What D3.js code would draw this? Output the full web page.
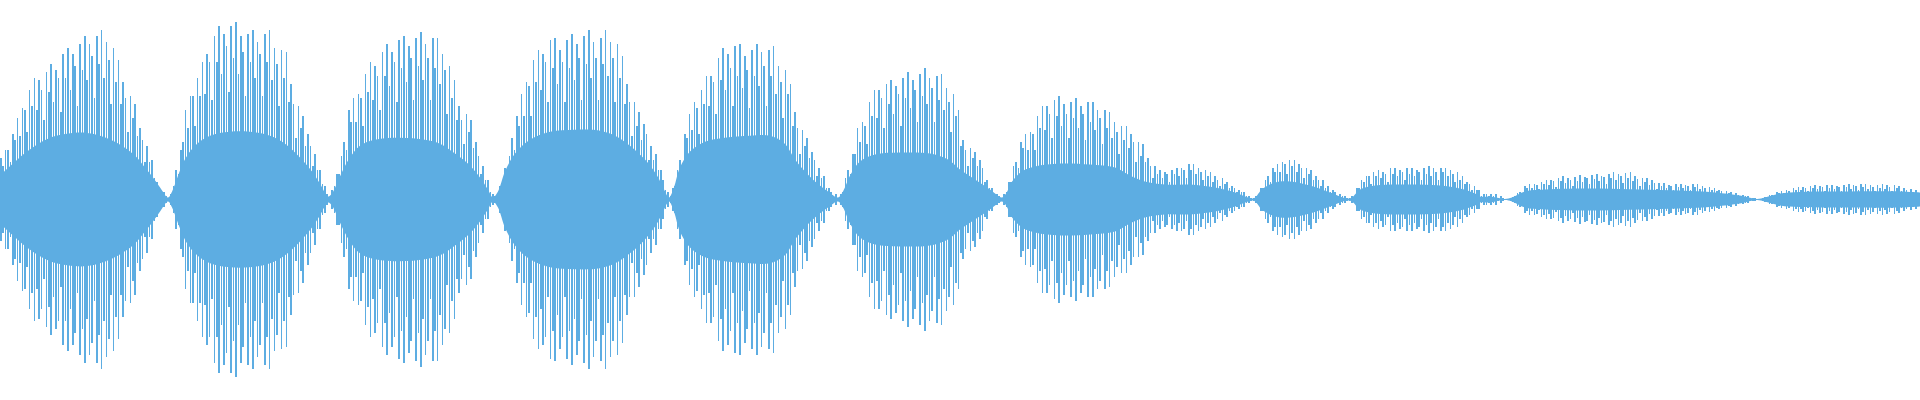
<!DOCTYPE html>
<html><head><meta charset="utf-8">
<script src="https://cdn.jsdelivr.net/npm/d3@7"></script>
<style>html,body{margin:0;padding:0;background:#fff;overflow:hidden}</style>
</head><body><svg id="chart" width="1920" height="400"></svg>
<script>
// Peak amplitude (percent of full scale) of each waveform column, one array per note/burst
const note1 = [21,17,25,25,19,33,30,41,32,46,45,34,55,47,61,45,60,55,40,64,54,68,49,65,61,44,73,61,76,55,73,67,47,78,65,82,60,78,72,51,82,68,85,61,79,70,48,76,59,70,48,59,51,34,52,41,48,32,36,30,19,27,19,20,11,9,6,3,4,2,1];
const note2 = [3,7,15,13,25,29,45,36,52,52,37,61,52,69,53,73,69,50,82,69,87,63,83,77,54,87,71,89,63,82,74,52,83,69,85,61,79,73,52,83,69,85,60,76,68,47,75,61,74,49,58,48,31,47,36,42,27,33,27,17,23,15,15,8,7,3,1];
const note3 = [5,7,13,13,22,29,25,45,39,51,39,53,51,37,63,54,69,50,67,62,45,74,62,78,57,74,69,49,80,66,82,59,77,71,50,81,67,84,60,78,71,50,81,66,81,58,73,65,43,67,51,60,40,47,40,28,43,34,40,26,29,22,13,17,10,10,4,3];
const note4 = [2,2,7,10,16,14,22,31,25,42,37,53,42,59,57,42,70,59,75,55,73,69,49,80,66,81,58,75,69,49,80,66,83,60,78,71,50,82,68,85,61,79,71,50,81,68,85,62,79,71,49,78,61,72,48,58,49,32,49,37,44,30,38,33,20,27,20,23,15,15,10,5,4];
const note5 = [2,6,7,15,20,17,33,31,43,35,49,46,33,55,48,62,47,62,59,43,71,60,76,55,73,66,47,77,62,78,56,72,65,46,75,62,78,57,74,67,47,75,62,77,53,67,59,41,65,53,58,37,44,36,23,35,27,31,21,24,20,12,16,11,12,6,6,4,2,3,1];
const note6 = [3,4,11,15,13,23,23,36,29,39,37,28,49,42,55,41,55,51,36,58,48,60,43,57,53,37,61,51,64,46,60,55,39,63,52,66,48,61,56,39,62,50,63,45,56,49,34,53,42,45,27,30,25,17,26,21,24,17,20,16,9,10,6,6,3,3,2,1];
const note7 = [3,4,9,9,17,19,16,29,26,33,25,34,33,25,42,36,47,35,47,43,31,50,42,52,37,48,43,31,49,41,51,36,47,43,30,49,39,49,35,45,41,28,45,36,44,31,39,34,23,37,30,37,26,33,29,19,29,22,28,19,21,17,11,17,13,15,11,14,13,9,15,13,16,12,16,15,11,18,15,18,13,16,14,10,15,12,14,9,12,10,7,11,8,9,6,7,6,4,5,4,4,2,2,1];
const note8 = [1,2,2,6,6,10,12,9,16,14,18,14,19,18,13,20,17,20,14,18,16,11,16,13,15,10,12,10,7,10,6,7,4,5,4,2,3,2,2,1];
const note9 = [1,2,2,6,6,10,9,12,12,8,14,12,15,11,14,13,9,16,13,16,12,15,14,10,16,13,16,12,15,14,10,16,13,17,12,16,14,10,16,14,16,12,15,13,9,14,10,12,8,9,8,5,7,5,5,2,3,3,2,3,2,3,1,2,1,0];
const note10 = [0.5,1,1.5,2,3.5,4,3.5,7,6,8,6,8,7.5,5.5,9,8,10,7.5,10,9.5,6.5,11,9.5,12,8.5,11,10,7,11.5,9.5,12.5,9,11.5,11,8,12.5,10.5,13,9.5,12,11.5,8,13,11,14,10,13,12,8.5,13.5,11,14,9.5,12,10.5,7,11,9,11,7.5,10,8.5,5.5,8.5,7,8.5,6,7.5,7,5,8,6.5,8,6,7.5,7,5,8,6.5,8,5.5,7,6,4,6.5,5,6,4.5,5,4.5,3,4.5,3.5,4,2.5,3.5,2.5,2,2.5,2,2,1,1,1,0.5];
const note11 = [0.5,1,1.5,1.5,2.5,2.5,2,4,3.5,4.5,3.5,5,4.5,3.5,6,5,6.5,5,6.5,6,4.5,7,6,7.5,5.5,7,6.5,4.5,7.5,6,7.5,5.5,7,6.5,4.5,7.5,6.5,8,5.5,7.5,7,5,8,6.5,8,5.5,7.5,6.5,4.5,7.5,6,8,5.5,7.5,6.5,4.5,7.5,6,7,4.5,6,5,3.5,5.5,4,5,3];

// Dense core level (percent of full scale) at column positions
const coreTime = [0,5.4,11.25,16.7,22,28,35.4,41.7,47,52,56.25,60.4,63.75,66.7,70,
  71.7,74.2,77,81.25,87.5,95.8,104,112.5,118.75,125,130,133.3,136.7,
  138.3,140.4,143,145.8,150,156.25,166.7,177,183.3,189.6,195.8,200,203.3,205.4,
  207.5,210.4,214.6,220.8,229.2,239.6,250,256.25,262.5,268.75,273.75,276.7,278.75,
  280.8,283.3,287.5,293.75,302,312.5,320.8,327,331.25,335.4,339.6,345,349.2,
  351.25,354.2,358.3,364.6,375,387.5,395,400,406.25,412.5,417.5,
  419.2,421.7,425.8,431.25,441.7,454.2,464.6,470.8,477,485.4,495.8,506.25,514.6,521.7,
  523,525.8,531.25,537.5,545.8,554.2,561.25,
  563.3,566.7,573,587.5,600,608.3,614.6,616.7,620.8,627,
  630,635.4,643.75,666.7,683.3,700,714.6,725,732,
  735.4,741.7,750,770.8,791.7,800];
const coreLevel = [12,18,24,28.5,31.5,33,33.5,32,29.5,26,22,16,11,6,1,
  4,12,20,27,32,34,34,32,28,21,14,8,1.5,
  3,8,15,21,27,30,31,30,28,23,17,11,5,1,
  4,14,23,30,34,35,34.5,32,27,20,12,5,1,
  6,16,24,29,31,32,32,28,20,14,9,4,1,
  4,12,19,22.5,23.5,23,20,15,10,5,1,
  3,9,14,16.5,18,17.5,16,12,9,7.5,7.5,6,3.5,0.5,
  1,5,8.5,9,7,3.5,0.5,
  1,5,7,7.5,7,5.5,3,1.5,1.5,0.3,
  1,4,5,5.5,5,4.5,3.5,2,0.3,
  1,3,3.8,4,4,3.5];

const peaks = [].concat(note1, note2, note3, note4, note5, note6, note7, note8, note9, note10, note11);

const W = 1920, H = 400;
const color = '#5DADE2';
const x = d3.scaleLinear().domain([0, peaks.length]).range([0, W]);
const y = d3.scaleLinear().domain([-100, 100]).range([399, 0]);
const svg = d3.select('#chart');

const core = coreTime.map((t, i) => ({ t: t, v: coreLevel[i] }));
svg.append('path')
  .datum(core)
  .attr('fill', color)
  .attr('d', d3.area()
    .x(d => x(d.t))
    .y0(d => y(-d.v))
    .y1(d => y(d.v))
    .curve(d3.curveCatmullRom.alpha(0.5)));

svg.append('g')
  .attr('shape-rendering', 'crispEdges')
  .selectAll('rect')
  .data(peaks)
  .join('rect')
  .attr('x', (d, i) => x(i))
  .attr('width', 1.5)
  .attr('y', d => y(d))
  .attr('height', d => Math.max(0.5, y(-d) - y(d)))
  .attr('fill', color);
</script></body></html>
